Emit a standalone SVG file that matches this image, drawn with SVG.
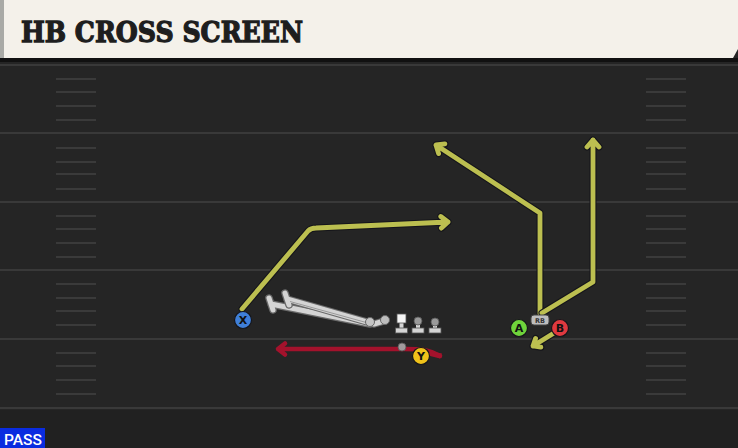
<svg xmlns="http://www.w3.org/2000/svg" width="738" height="448" viewBox="0 0 738 448">
<style>
.field-line{stroke:#393939;stroke-width:2}
.hash{stroke:#3a3a3a;stroke-width:2}
.ro{fill:none;stroke:#15151a;stroke-width:7;stroke-linecap:round;stroke-linejoin:round}
.ry{fill:none;stroke:#bcbf50;stroke-width:4.8;stroke-linecap:round;stroke-linejoin:round}
.rr{fill:none;stroke:#a3122c;stroke-width:4.5;stroke-linecap:round;stroke-linejoin:round}
.bo{fill:none;stroke:#6a6a6a;stroke-width:7.5;stroke-linecap:round;stroke-linejoin:round}
.bw{fill:none;stroke:#d4d4d4;stroke-width:5;stroke-linecap:round;stroke-linejoin:round}
.bi{fill:none;stroke:#8a8a8a;stroke-width:0.8}
.lbl{font-family:"DejaVu Sans",sans-serif;font-weight:bold;font-size:11px;fill:#111;text-anchor:middle}
.pc{stroke:#15151a;stroke-width:1.2}
</style>
<rect x="0" y="0" width="738" height="448" fill="#252525"/>
<rect x="0" y="410" width="738" height="38" fill="#212121"/>
<g id="field">
<line class="field-line" x1="0" y1="65" x2="738" y2="65"/>
<line class="field-line" x1="0" y1="133" x2="738" y2="133"/>
<line class="field-line" x1="0" y1="202" x2="738" y2="202"/>
<line class="field-line" x1="0" y1="270" x2="738" y2="270"/>
<line class="field-line" x1="0" y1="339" x2="738" y2="339"/>
<line class="field-line" x1="0" y1="408" x2="738" y2="408"/>
<g id="hashes-left">
<line class="hash" x1="56" y1="79" x2="96" y2="79"/><line class="hash" x1="56" y1="92" x2="96" y2="92"/><line class="hash" x1="56" y1="106" x2="96" y2="106"/><line class="hash" x1="56" y1="120" x2="96" y2="120"/>
<line class="hash" x1="56" y1="148" x2="96" y2="148"/><line class="hash" x1="56" y1="162" x2="96" y2="162"/><line class="hash" x1="56" y1="174" x2="96" y2="174"/><line class="hash" x1="56" y1="189" x2="96" y2="189"/>
<line class="hash" x1="56" y1="216" x2="96" y2="216"/><line class="hash" x1="56" y1="229" x2="96" y2="229"/><line class="hash" x1="56" y1="243" x2="96" y2="243"/><line class="hash" x1="56" y1="257" x2="96" y2="257"/>
<line class="hash" x1="56" y1="284" x2="96" y2="284"/><line class="hash" x1="56" y1="298" x2="96" y2="298"/><line class="hash" x1="56" y1="311" x2="96" y2="311"/><line class="hash" x1="56" y1="325" x2="96" y2="325"/>
<line class="hash" x1="56" y1="353" x2="96" y2="353"/><line class="hash" x1="56" y1="366" x2="96" y2="366"/><line class="hash" x1="56" y1="380" x2="96" y2="380"/><line class="hash" x1="56" y1="394" x2="96" y2="394"/>
</g>
<g id="hashes-right">
<line class="hash" x1="646" y1="79" x2="686" y2="79"/><line class="hash" x1="646" y1="92" x2="686" y2="92"/><line class="hash" x1="646" y1="106" x2="686" y2="106"/><line class="hash" x1="646" y1="120" x2="686" y2="120"/>
<line class="hash" x1="646" y1="148" x2="686" y2="148"/><line class="hash" x1="646" y1="162" x2="686" y2="162"/><line class="hash" x1="646" y1="174" x2="686" y2="174"/><line class="hash" x1="646" y1="189" x2="686" y2="189"/>
<line class="hash" x1="646" y1="216" x2="686" y2="216"/><line class="hash" x1="646" y1="229" x2="686" y2="229"/><line class="hash" x1="646" y1="243" x2="686" y2="243"/><line class="hash" x1="646" y1="257" x2="686" y2="257"/>
<line class="hash" x1="646" y1="284" x2="686" y2="284"/><line class="hash" x1="646" y1="298" x2="686" y2="298"/><line class="hash" x1="646" y1="311" x2="686" y2="311"/><line class="hash" x1="646" y1="325" x2="686" y2="325"/>
<line class="hash" x1="646" y1="353" x2="686" y2="353"/><line class="hash" x1="646" y1="366" x2="686" y2="366"/><line class="hash" x1="646" y1="380" x2="686" y2="380"/><line class="hash" x1="646" y1="394" x2="686" y2="394"/>
</g>
</g>
<g id="header">
<rect x="0" y="58" width="738" height="4" fill="#111"/>
<polygon points="0,0 738,0 738,49 733,58 0,58" fill="#f4f1ea"/>
<rect x="0" y="0" width="4" height="58" fill="#a9aaa6"/>
<text x="21" y="42" font-family="DejaVu Serif, serif" font-weight="bold" font-size="28" fill="#1e1e1e" stroke="#1e1e1e" stroke-width="1.3" textLength="282" lengthAdjust="spacingAndGlyphs">HB CROSS SCREEN</text>
</g>
<g id="connectors">
<g id="route-x">
<path class="ro" d="M242,309 L308,231 Q311,228 316,228 L448,222 M440.8,216.5 L448,222 L441.4,228.1"/>
<path class="ry" d="M242,309 L308,231 Q311,228 316,228 L448,222 M440.8,216.5 L448,222 L441.4,228.1"/>
</g>
<g id="route-rb-post">
<path class="ro" d="M540,314 L540,213 L436,145 M438.6,153.6 L436,145 L444.9,143.9"/>
<path class="ry" d="M540,314 L540,213 L436,145 M438.6,153.6 L436,145 L444.9,143.9"/>
</g>
<g id="route-rb-go">
<path class="ro" d="M542,313 L593,282 L593,140 M587,147 L593,140 L599,147"/>
<path class="ry" d="M542,313 L593,282 L593,140 M587,147 L593,140 L599,147"/>
</g>
<g id="route-b">
<path class="ro" d="M554,333 L533,346 M540.9,347.2 L533,346 L535.6,338.4"/>
<path class="ry" d="M554,333 L533,346 M540.9,347.2 L533,346 L535.6,338.4"/>
</g>
<g id="route-y">
<path class="rr" d="M440,356 C430,350 422,349 405,349 L278,349 M285,343.5 L278,349 L285,354.5"/>
<path d="M426,350.5 L442,353.5 L440,358.5 L430,356 Z" fill="#a3122c"/>
</g>
<g id="blocks">
<path class="bo" d="M271,304 L370,324 M269,298 L273,310"/>
<path class="bw" d="M271,304 L370,324 M269,298 L273,310"/>
<path class="bo" d="M287,299 L374,324 L384,321 M285,293 L289,305"/>
<path class="bw" d="M287,299 L374,324 L384,321 M285,293 L289,305"/>
<path class="bi" d="M290,301.5 L368,323"/>
<circle cx="370" cy="322" r="4.5" fill="#c4c4c4" stroke="#666" stroke-width="1"/>
<circle cx="385" cy="320" r="4.5" fill="#bdbdbd" stroke="#666" stroke-width="1"/>
</g>
</g>
<g id="linemen">
<g id="center">
<rect x="399.5" y="322" width="4" height="8" fill="#d4d4d4"/>
<rect x="395.5" y="328" width="12" height="5" fill="#d4d4d4" stroke="#555" stroke-width="0.8"/>
<rect x="397" y="314" width="9" height="9" fill="#f4f4f4" stroke="#555" stroke-width="0.8"/>
</g>
<g id="guard">
<rect x="416" y="322" width="4" height="8" fill="#d4d4d4"/>
<rect x="412" y="328" width="12" height="5" fill="#d4d4d4" stroke="#555" stroke-width="0.8"/>
<circle cx="418" cy="321" r="4" fill="#9a9a9a" stroke="#555" stroke-width="0.8"/>
</g>
<g id="tackle">
<rect x="433" y="323" width="4" height="7" fill="#d4d4d4"/>
<rect x="429" y="328" width="12" height="5" fill="#d4d4d4" stroke="#555" stroke-width="0.8"/>
<circle cx="435" cy="322" r="4" fill="#9a9a9a" stroke="#555" stroke-width="0.8"/>
</g>
</g>
<g id="motion-dot"><circle cx="402" cy="347" r="4" fill="#a09a9c" stroke="#555" stroke-width="0.8"/></g>
<g id="rb">
<rect x="531" y="315" width="18" height="10" rx="3" fill="#bdbdbd" stroke="#444" stroke-width="1"/>
<text x="540" y="323" font-family="DejaVu Sans, sans-serif" font-weight="bold" font-size="6.5" fill="#333" text-anchor="middle">RB</text>
</g>
<g id="player-x"><circle class="pc" cx="243" cy="320" r="8.5" fill="#3f7fd8"/><text class="lbl" x="243" y="324">X</text></g>
<g id="player-y"><circle class="pc" cx="421" cy="356" r="8.5" fill="#f0c21a"/><text class="lbl" x="421" y="360">Y</text></g>
<g id="player-a"><circle class="pc" cx="519" cy="328" r="8.5" fill="#6fd33b"/><text class="lbl" x="519" y="332">A</text></g>
<g id="player-b"><circle class="pc" cx="560" cy="328" r="8.5" fill="#e0393f"/><text class="lbl" x="560" y="332">B</text></g>
<g id="pass-badge">
<rect x="0" y="428" width="45" height="20" fill="#0a2ce0"/>
<text x="4" y="445" font-family="Roboto, 'DejaVu Sans', sans-serif" font-weight="500" font-size="15" fill="#ffffff" textLength="38" lengthAdjust="spacingAndGlyphs">PASS</text>
</g>
</svg>
